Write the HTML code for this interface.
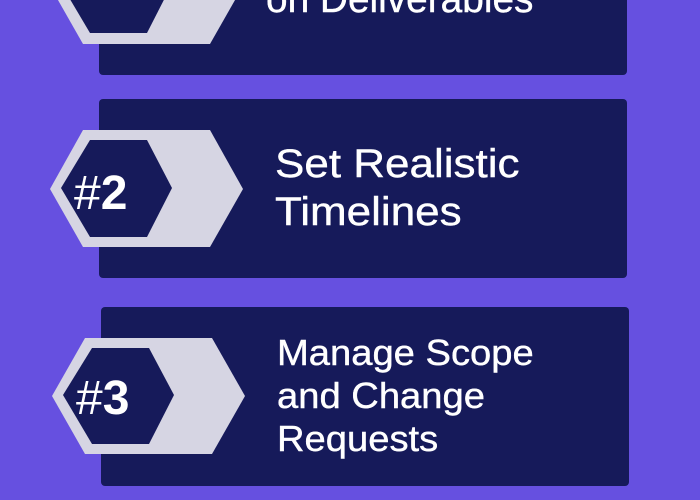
<!DOCTYPE html>
<html><head><style>
html,body{margin:0;padding:0}
body{width:700px;height:500px;background:#6650e0;position:relative;overflow:hidden;font-family:"Liberation Sans",sans-serif}
.card{position:absolute;background:#161a5a;border-radius:4px}
svg{position:absolute;left:0;top:0}
.t{position:absolute;color:#fff;font-size:40px;line-height:48px;white-space:nowrap;transform-origin:0 0;transform:scaleX(1.1);-webkit-text-stroke:0.4px #fff}
</style></head><body>
<div class="card" style="left:99px;top:-110px;width:528px;height:185px"></div>
<div class="card" style="left:99px;top:99px;width:528px;height:179px"></div>
<div class="card" style="left:101px;top:307px;width:528px;height:179px"></div>
<svg width="700" height="500">
<g fill="#d6d5e3">
<polygon points="50,-14 83,-74 210,-74 243,-14 210,44 83,44"/>
<polygon points="50,189 83,130 210,130 243,189 210,247 83,247"/>
<polygon points="52,396 85,338 212,338 245,396 212,454 85,454"/>
</g>
<g fill="#161a5a">
<polygon points="61,-16 90,-64 147,-64 172,-16 147,33 90,33"/>
<polygon points="61,188 90,140 147,140 172,188 147,237 90,237"/>
<polygon points="63,395 92,348 149,348 174,395 149,444 92,444"/>
</g>
<g fill="#fff" font-family="Liberation Sans, sans-serif" font-size="48">
<text x="74" y="209">#<tspan font-weight="bold">2</tspan></text>
<text x="76" y="414">#<tspan font-weight="bold">3</tspan></text>
</g>
</svg>
<div class="t" style="left:266px;top:-25px;transform:scaleX(0.97)">on Deliverables</div>
<div class="t" style="left:275px;top:140px">Set Realistic<br>Timelines</div>
<div class="t" style="left:277px;top:331px;font-size:36px;line-height:43px;transform:scaleX(1.06)">Manage Scope<br>and Change<br>Requests</div>
</body></html>
